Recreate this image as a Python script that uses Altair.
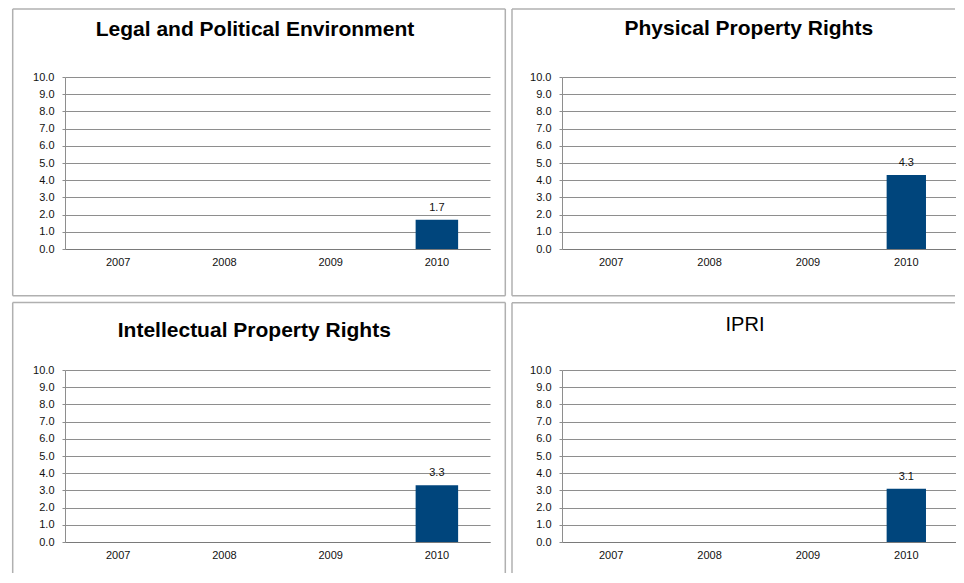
import altair as alt
import pandas as pd

# ---- data ----
years = ["2007", "2008", "2009", "2010"]
titles = ["Legal and Political Environment", "Physical Property Rights",
          "Intellectual Property Rights", "IPRI"]
legal = [None, None, None, 1.7]
physical = [None, None, None, 4.3]
intellectual = [None, None, None, 3.3]
ipri = [None, None, None, 3.1]
series = [legal, physical, intellectual, ipri]
y_ticks = [0, 1, 2, 3, 4, 5, 6, 7, 8, 9, 10]

# ---- styles / layout ----
FONT = "Liberation Sans"
BAR = "#00457c"
GRID = "#8e8e8e"
AXIS = "#7a7a7a"
BORDER = "#b0b0b0"
TXT = "#111111"
H = 172
W_LEFT = 425
W_RIGHT = 393.5
widths = [W_LEFT, W_RIGHT, W_LEFT, W_RIGHT]
title_bold = [True, True, True, False]
title_size = [21, 21, 21, 20]
title_pos = [(190, -41.3), (186.8, -42), (189.3, -33.3), (183, -38.6)]
# border segments per panel: ("v", x, y1, y2) or ("h", y, x1, x2)
borders = [
    [("v", -52.3, -68, 218.7), ("v", 440.3, -68, 218.7),
     ("h", -68, -52.3, 440.3), ("h", 218.7, -52.3, 440.3)],
    [("v", -50, -68, 218.7), ("h", -68, -50, W_RIGHT - 0.5), ("h", 218.7, -50, W_RIGHT - 0.5)],
    [("v", -52.3, -67.6, 203), ("v", 440.3, -67.6, 203), ("h", -67.6, -52.3, 440.3)],
    [("v", -50, -67.3, 203), ("h", -67.3, -50, W_RIGHT - 0.5)],
]

one = pd.DataFrame({"a": [0]})

X = alt.X("year:N", scale=alt.Scale(domain=years, paddingInner=0.6, paddingOuter=0.3),
          axis=alt.Axis(title=None, labelAngle=0, ticks=False, tickSize=0, grid=False,
                        domainColor=AXIS, labelPadding=7, labelFontSize=11,
                        labelColor=TXT, labelFont=FONT))
Y = alt.Y("v:Q", scale=alt.Scale(domain=[0, 10], nice=False, zero=True),
          axis=alt.Axis(title=None, values=y_ticks, format=".1f", grid=True,
                        gridColor=GRID, gridWidth=1, domainColor=GRID,
                        tickColor=GRID, tickSize=3, labelPadding=8,
                        labelOverlap=False, labelFontSize=11, labelColor=TXT,
                        labelFont=FONT))


def panel(i):
    df = pd.DataFrame({"year": years, "v": series[i]})
    w = widths[i]
    base = alt.Chart(df).transform_filter("datum.v != null")
    bars = base.mark_bar(color=BAR).encode(x=X, y=Y)
    labels = base.mark_text(baseline="middle", dy=-12, fontSize=11, color=TXT,
                            font=FONT).encode(
        x=X, y=Y, text=alt.Text("v:Q", format=".1f"))
    layers = []
    for seg in borders[i]:
        if seg[0] == "v":
            layers.append(alt.Chart(one).mark_rule(color=BORDER, strokeWidth=1.5).encode(
                x=alt.value(seg[1]), y=alt.value(seg[2]), y2=alt.value(seg[3])))
        else:
            layers.append(alt.Chart(one).mark_rule(color=BORDER, strokeWidth=1.5).encode(
                y=alt.value(seg[1]), x=alt.value(seg[2]), x2=alt.value(seg[3])))
    tx, ty = title_pos[i]
    title = alt.Chart(pd.DataFrame({"t": [titles[i]]})).mark_text(
        font=FONT, fontSize=title_size[i],
        fontWeight="bold" if title_bold[i] else "normal",
        color="#000000", align="center", baseline="alphabetic").encode(
        text="t:N", x=alt.value(tx), y=alt.value(ty))
    return alt.layer(bars, labels, *layers, title).properties(width=w, height=H)


chart = alt.concat(*[panel(i) for i in range(4)], columns=2,
                   spacing={"row": 121, "column": 72}, bounds="flush").properties(
    padding={"left": 3, "top": 0, "right": 0, "bottom": 0}
).configure(font=FONT, background="white").configure_view(strokeWidth=0, stroke="transparent")

chart.save("out.html", embed_options={"renderer": "svg", "actions": False})
